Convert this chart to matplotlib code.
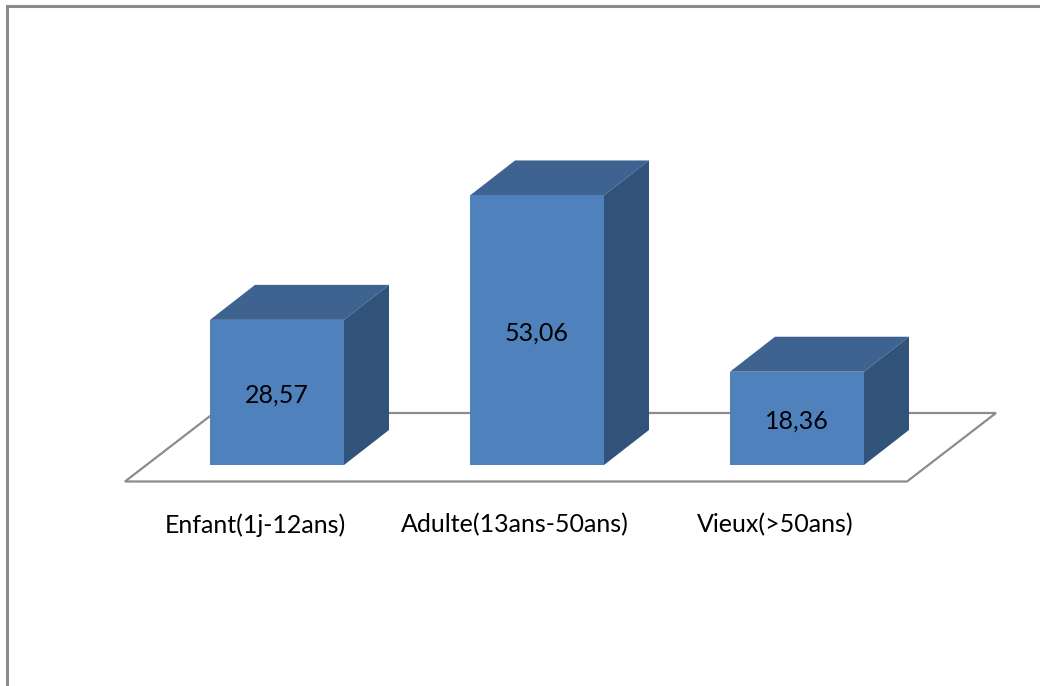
import matplotlib
matplotlib.use('Agg')
import matplotlib.pyplot as plt
from matplotlib.patches import Polygon

categories = ['Enfant(1j-12ans)', 'Adulte(13ans-50ans)', 'Vieux(>50ans)']
values = [28.57, 53.06, 18.36]
value_labels = ['28,57', '53,06', '18,36']

W, H = 1040, 686
X0 = 277; STEP = 260      # pixel centre of first bar, spacing between bars
Y0 = 465; SCALE = 5.08    # pixel row of value 0, pixels per unit
BAR_W = 134 / STEP
DX = 45 / STEP; DY = 35 / SCALE   # depth of the fake 3d boxes
LABEL_SHIFT = -22 / STEP  # category labels sit left of the bars

plt.rcParams['font.family'] = ['Lato', 'DejaVu Sans']

fig = plt.figure(figsize=(W / 100, H / 100), dpi=100)
ax = fig.add_axes([0, 0, 1, 1])
ax.set_xlim(-X0 / STEP, (W - X0) / STEP)
ax.set_ylim(-(H - Y0) / SCALE, Y0 / SCALE)
ax.axis('off')

def px(x):
    return (x - X0) / STEP

def py(y):
    return (Y0 - y) / SCALE

# outer frame, open on the right and bottom
frame = '#8c8c8c'
ax.plot([px(7), px(7), px(W)], [py(H), py(6), py(6)], color=frame, lw=2.2, solid_capstyle='butt', solid_joinstyle='miter')

# floor
floor = [(125, 481.5), (907, 481.5), (996, 413), (214, 413)]
ax.add_patch(Polygon([(px(a), py(b)) for a, b in floor], closed=True, fill=False,
                     edgecolor='#8c8c8c', lw=1.6, zorder=1))

for i, v in enumerate(values):
    l = i - BAR_W / 2
    r = i + BAR_W / 2
    # top, side, front
    ax.add_patch(Polygon([(l, v), (r, v), (r + DX, v + DY), (l + DX, v + DY)], color='#3e6391', lw=0, zorder=2))
    ax.add_patch(Polygon([(r, 0), (r + DX, DY), (r + DX, v + DY), (r, v)], color='#325379', lw=0, zorder=2))
    ax.bar(i, v, BAR_W, color='#4f81bd', linewidth=0, zorder=3)
    ax.text(i, v / 2 - 0.5, value_labels[i], ha='center', va='center', fontsize=18, color='black', zorder=4)
    ax.text(i + LABEL_SHIFT, py(525), categories[i], ha='center', va='center', fontsize=18, color='black')

plt.savefig('out.png', dpi=100)
